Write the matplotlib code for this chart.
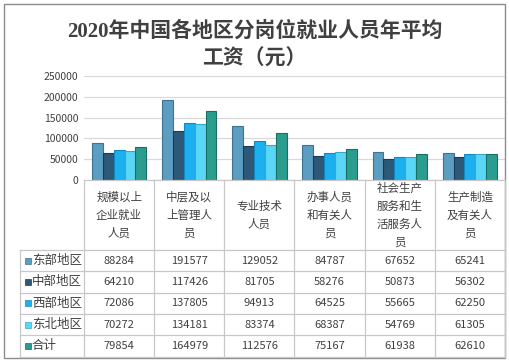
import matplotlib
matplotlib.use("Agg")
import matplotlib.pyplot as plt
import numpy as np
from matplotlib.transforms import blended_transform_factory
from matplotlib.patches import Rectangle

plt.rcParams['font.family'] = ['Noto Sans CJK SC', 'DejaVu Sans']

title = "2020年中国各地区分岗位就业人员年平均\n工资（元）"
categories = ["规模以上\n企业就业\n人员", "中层及以\n上管理人\n员", "专业技术\n人员",
              "办事人员\n和有关人\n员", "社会生产\n服务和生\n活服务人\n员", "生产制造\n及有关人\n员"]
series_names = ["东部地区", "中部地区", "西部地区", "东北地区", "合计"]
east = [88284, 191577, 129052, 84787, 67652, 65241]
central = [64210, 117426, 81705, 58276, 50873, 56302]
west = [72086, 137805, 94913, 64525, 55665, 62250]
northeast = [70272, 134181, 83374, 68387, 54769, 61305]
total = [79854, 164979, 112576, 75167, 61938, 62610]
series_values = [east, central, west, northeast, total]
yticks = [0, 50000, 100000, 150000, 200000, 250000]

colors = ["#5b9ec2", "#2d5878", "#1cb0ee", "#5ad6f6", "#2a9d8e"]
edges = ["#3e7391", "#1d3b52", "#1488c0", "#3aa8cc", "#1b6e62"]

W, H = 509, 363
fig = plt.figure(figsize=(W / 100, H / 100), dpi=100)
fig.patch.set_facecolor("white")

def fx(px):
    return px / W

def fy(py):
    return 1 - py / H

ax = fig.add_axes([fx(84), fy(180), fx(505) - fx(84), fy(76) - fy(180)])
n = len(categories)
x = np.arange(n)
bw = 0.155
for i, vals in enumerate(series_values):
    ax.bar(x + (i - 2) * bw, vals, width=bw, color=colors[i], edgecolor=edges[i],
           linewidth=0.8, zorder=3)
ax.set_xlim(-0.5, n - 0.5)
ax.set_ylim(0, 250000)
ax.set_yticks(yticks)
ax.set_yticklabels([str(v) for v in yticks], fontsize=7.5, color="#404040")
ax.tick_params(axis='y', length=0, pad=4)
ax.tick_params(axis='x', length=0, labelbottom=False)
ax.yaxis.grid(True, color="#d9d9d9", linewidth=0.9, zorder=0)
for s in ax.spines.values():
    s.set_visible(False)

tfam = ['Liberation Serif', 'Noto Sans CJK SC']
title_lines = title.split("\n")
fig.text(0.5, fy(31), title_lines[0], ha="center", va="center", family=tfam,
         fontsize=15, fontweight="bold", color="#404040")
fig.text(0.5, fy(60), title_lines[1], ha="center", va="center", family=tfam,
         fontsize=15, fontweight="bold", color="#404040")

# data table
tr = blended_transform_factory(ax.transData, fig.transFigure)
lc = "#c8c8c8"
left_px = 20
unit_px = (505 - 84) / n
left_data = -0.5 - (84 - left_px) / unit_px
row_tops = [180, 250, 271.3, 292.6, 313.9, 335.2, 356.5]

fig.add_artist(plt.Line2D([-0.5, n - 0.5], [fy(180)] * 2, transform=tr, color=lc, lw=0.9))
for r in row_tops[1:]:
    fig.add_artist(plt.Line2D([left_data, n - 0.5], [fy(r)] * 2, transform=tr, color=lc, lw=0.9))
for b in range(n + 1):
    fig.add_artist(plt.Line2D([b - 0.5] * 2, [fy(180), fy(row_tops[-1])], transform=tr, color=lc, lw=0.9))
fig.add_artist(plt.Line2D([left_data] * 2, [fy(250), fy(row_tops[-1])], transform=tr, color=lc, lw=0.9))

for j, c in enumerate(categories):
    fig.text(j, fy(215), c, transform=tr, ha="center", va="center", fontsize=8.3,
             color="#404040", linespacing=1.5)

for i, (name, vals) in enumerate(zip(series_names, series_values)):
    yc = fy((row_tops[i + 1] + row_tops[i + 2]) / 2)
    fig.add_artist(Rectangle((fx(24.5), yc - 3 / H), 6 / W, 6 / H, transform=fig.transFigure,
                             facecolor=colors[i], edgecolor=edges[i], lw=0.5))
    fig.text(fx(32), yc, name, ha="left", va="center", fontsize=9, color="#404040")
    for j, v in enumerate(vals):
        fig.text(j, yc, str(v), transform=tr, ha="center", va="center", fontsize=8,
                 color="#404040")

fig.add_artist(Rectangle((fx(4), fy(358)), fx(505) - fx(4), fy(4) - fy(358),
                         transform=fig.transFigure, fill=False, edgecolor="#8c8c8c", lw=1))

fig.savefig("out.png", dpi=100)
